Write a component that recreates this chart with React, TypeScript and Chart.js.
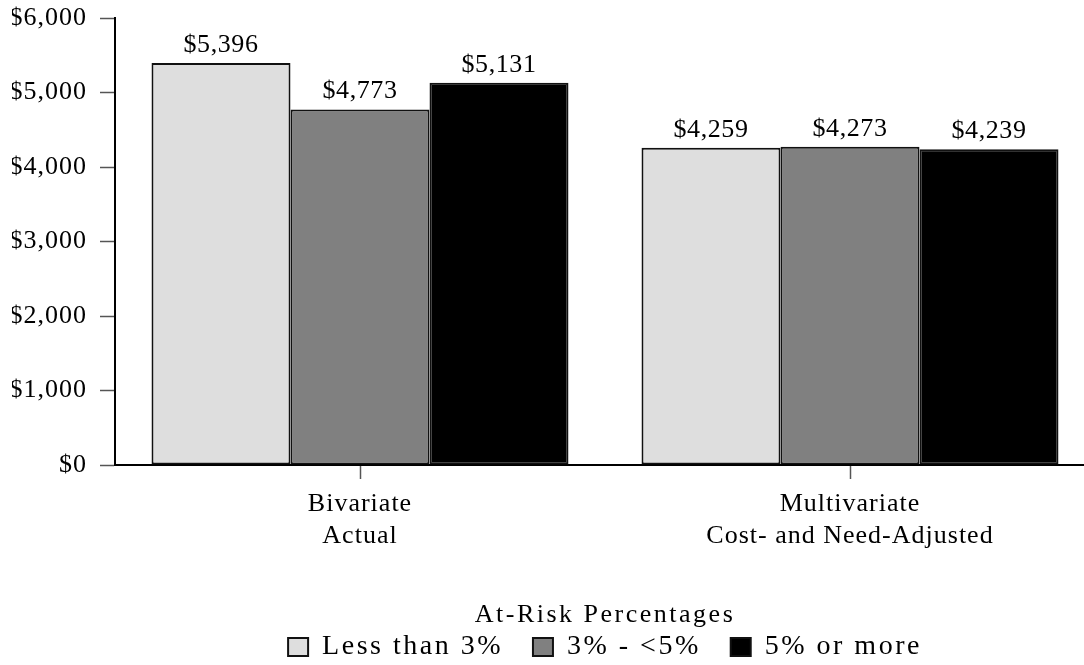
import React, { useEffect, useRef } from "react";
import { Chart, registerables } from "chart.js";

Chart.register(...registerables);

const categories: string[][] = [
  ["Bivariate", "Actual"],
  ["Multivariate", "Cost- and Need-Adjusted"],
];
const seriesNames = ["Less than 3%", "3% - <5%", "5% or more"];
const lessThan3 = [5396, 4259];
const from3To5 = [4773, 4273];
const fiveOrMore = [5131, 4239];
const seriesColors = ["#dedede", "#808080", "#000000"];
const legendTitle = "At-Risk Percentages";
const yMax = 6000;
const yStep = 1000;

const FONT = "'Liberation Serif', 'Times New Roman', serif";

const fmt = (v: number) => "$" + Number(v).toLocaleString("en-US");

const LEGEND_SPACING = "2.5px";
const AXIS_SPACING = "1px";
const VALUE_SPACING = "0.6px";

const spacingPlugin = {
  id: "letterSpacing",
  beforeUpdate(chart: any) {
    chart.ctx.letterSpacing = LEGEND_SPACING;
  },
  beforeDraw(chart: any) {
    chart.ctx.letterSpacing = LEGEND_SPACING;
  },
  afterDatasetsDraw(chart: any) {
    chart.ctx.letterSpacing = AXIS_SPACING;
  },
};

const valueLabelPlugin = {
  id: "valueLabels",
  afterDatasetsDraw(chart: any) {
    const ctx = chart.ctx;
    ctx.save();
    ctx.letterSpacing = VALUE_SPACING;
    ctx.font = `26px ${FONT}`;
    ctx.fillStyle = "#000";
    ctx.textAlign = "center";
    ctx.textBaseline = "alphabetic";
    chart.data.datasets.forEach((ds: any, di: number) => {
      const meta = chart.getDatasetMeta(di);
      meta.data.forEach((bar: any, i: number) => {
        ctx.fillText(fmt(ds.data[i]), bar.x, bar.y - 11);
      });
    });
    ctx.restore();
  },
};

export default function App() {
  const ref = useRef<HTMLCanvasElement | null>(null);

  useEffect(() => {
    if (!ref.current) return;
    const values = [lessThan3, from3To5, fiveOrMore];
    const chart = new Chart(ref.current, {
      type: "bar",
      data: {
        labels: categories,
        datasets: seriesNames.map((name, i) => ({
          label: name,
          data: values[i],
          backgroundColor: seriesColors[i],
          borderColor: "#111111",
          borderWidth: 2,
          borderSkipped: false,
          categoryPercentage: 0.851,
          barPercentage: 1,
        })),
      },
      options: {
        responsive: false,
        animation: false,
        devicePixelRatio: 1,
        layout: { padding: { left: 12, top: 18, right: 5, bottom: -6 } },
        plugins: {
          tooltip: { enabled: false },
          legend: {
            display: true,
            position: "bottom",
            fullSize: false,
            labels: {
              color: "#000",
              font: { family: FONT, size: 28 },
              boxWidth: 20,
              boxHeight: 18,
              padding: 30,
            },
            title: {
              display: true,
              text: legendTitle,
              color: "#000",
              font: { family: FONT, size: 26 },
              padding: { top: 54.4, bottom: -30.6 },
            },
          },
        },
        scales: {
          x: {
            grid: {
              display: true,
              drawOnChartArea: false,
              drawTicks: true,
              tickLength: 14,
              tickColor: "#555",
              tickWidth: 1.5,
              offset: false,
            },
            border: { display: true, color: "#000", width: 2 },
            ticks: {
              z: 1,
              color: "#000",
              font: { family: FONT, size: 26 },
              padding: 10,
              autoSkip: false,
              maxRotation: 0,
            },
            afterFit: (scale: any) => {
              scale.height = 83;
            },
          },
          y: {
            min: 0,
            max: yMax,
            grid: {
              display: true,
              drawOnChartArea: false,
              drawTicks: true,
              tickLength: 15,
              tickColor: "#555",
              tickWidth: 1.5,
            },
            border: { display: true, color: "#000", width: 2 },
            ticks: {
              z: 1,
              stepSize: yStep,
              color: "#000",
              font: { family: FONT, size: 26 },
              padding: 13,
              callback: (v: any) => fmt(Number(v)),
            },
            afterFit: (scale: any) => {
              scale.width = 103;
              scale.paddingTop = 0;
              scale.paddingBottom = 0;
            },
          },
        },
      },
      plugins: [spacingPlugin, valueLabelPlugin],
    });
    return () => chart.destroy();
  }, []);

  return (
    <div
      style={{
        position: "fixed",
        left: 0,
        top: 0,
        width: 1084,
        height: 665,
        overflow: "hidden",
        background: "#fff",
      }}
    >
      <canvas ref={ref} width={1100} height={665} style={{ display: "block" }} />
    </div>
  );
}
